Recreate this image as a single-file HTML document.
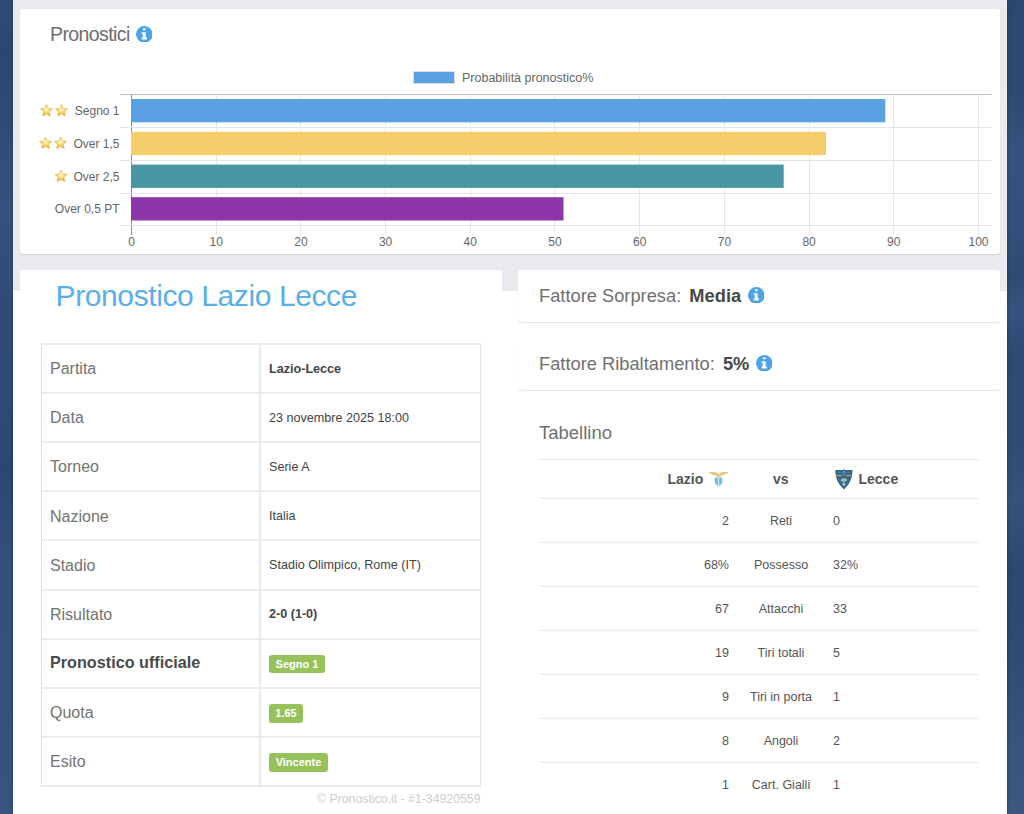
<!DOCTYPE html>
<html>
<head>
<meta charset="utf-8">
<style>
html,body{margin:0;padding:0;width:1024px;height:814px;overflow:hidden;}
body{position:relative;font-family:"Liberation Sans",sans-serif;color:#555;
  background:linear-gradient(165deg,#2b4771 0%,#33507b 22%,#2b4872 40%,#304d78 65%,#2b4872 100%);}
.abs{position:absolute;}
#gray{left:13px;top:0;width:994px;height:814px;background:linear-gradient(to bottom,#e9eaed 0,#e9eaed 291px,#fff 291px,#fff 100%);box-shadow:0 0 3px rgba(0,0,0,0.3);}
.card{position:absolute;background:#fff;border-radius:3px;box-shadow:0 1px 1px -0.5px rgba(0,0,0,0.10);}
.t{position:absolute;white-space:nowrap;line-height:1;}
.hl{position:absolute;height:2px;background:#eaecee;}
.vl{position:absolute;width:2px;background:#e8eaed;}
.lab{position:absolute;left:50px;font-size:16px;color:#737373;white-space:nowrap;line-height:1;}
.val{position:absolute;left:269px;font-size:12.6px;color:#444;white-space:nowrap;line-height:1;}
.badge{position:absolute;left:269px;height:18.6px;border-radius:3px;background:#97c25b;color:#fff;font-weight:bold;font-size:11px;line-height:18.6px;text-align:center;}
.sl{position:absolute;left:539px;width:440px;height:1px;background:#e8eaec;}
.sv{position:absolute;font-size:12.5px;color:#555;white-space:nowrap;line-height:1;}
</style>
</head>
<body>
<div class="abs" style="left:0;top:0;width:14px;height:814px;background:linear-gradient(to bottom,#2f4b76 0px,#2b4771 50px,#2f4d78 140px,#34527d 210px,#2f4c77 300px,#2e4b76 400px,#2b4771 470px,#32507b 560px,#34527d 700px,#36547f 814px);"></div>
<div class="abs" style="left:1006px;top:0;width:18px;height:814px;background:linear-gradient(to bottom,#2c4872 0px,#2d4973 90px,#35537e 150px,#32507b 230px,#2d4a74 275px,#36547f 310px,#2d4a75 350px,#2f4c77 450px,#35527d 500px,#2c4872 570px,#2e4b75 650px,#38557f 750px,#3a5782 814px);"></div>
<div id="gray" class="abs"></div>
<div class="card" style="left:20px;top:9px;width:980px;height:245px;"></div>

<svg class="abs" style="left:0;top:0" width="1024" height="260" viewBox="0 0 1024 260" font-family="Liberation Sans, sans-serif">
<defs><radialGradient id="sg" cx="0.5" cy="0.38" r="0.68"><stop offset="0" stop-color="#fff8d6"/><stop offset="0.35" stop-color="#fbe38a"/><stop offset="0.75" stop-color="#f1bb3a"/><stop offset="1" stop-color="#dc9318"/></radialGradient><symbol id="star" viewBox="0 0 24 24"><path d="M12 1.8l3.05 6.7 7.35.75-5.5 4.95 1.6 7.3L12 17.8l-6.5 3.7 1.6-7.3-5.5-4.95 7.35-.75z" fill="url(#sg)" stroke="#e0a93a" stroke-width="1" stroke-linejoin="round"/></symbol></defs>
<line x1="131.5" y1="94" x2="131.5" y2="235" stroke="#8f8f8f" stroke-width="1"/>
<line x1="216.5" y1="94" x2="216.5" y2="235" stroke="#e3e5e8" stroke-width="1"/>
<line x1="300.5" y1="94" x2="300.5" y2="235" stroke="#e3e5e8" stroke-width="1"/>
<line x1="385.5" y1="94" x2="385.5" y2="235" stroke="#e3e5e8" stroke-width="1"/>
<line x1="470.5" y1="94" x2="470.5" y2="235" stroke="#e3e5e8" stroke-width="1"/>
<line x1="554.5" y1="94" x2="554.5" y2="235" stroke="#e3e5e8" stroke-width="1"/>
<line x1="639.5" y1="94" x2="639.5" y2="235" stroke="#e3e5e8" stroke-width="1"/>
<line x1="724.5" y1="94" x2="724.5" y2="235" stroke="#e3e5e8" stroke-width="1"/>
<line x1="809.5" y1="94" x2="809.5" y2="235" stroke="#e3e5e8" stroke-width="1"/>
<line x1="893.5" y1="94" x2="893.5" y2="235" stroke="#e3e5e8" stroke-width="1"/>
<line x1="978.5" y1="94" x2="978.5" y2="235" stroke="#e3e5e8" stroke-width="1"/>
<line x1="120" y1="94.5" x2="991.5" y2="94.5" stroke="#bdbdbd" stroke-width="1"/>
<line x1="120" y1="127.5" x2="991.5" y2="127.5" stroke="#e3e5e8" stroke-width="1"/>
<line x1="120" y1="160.5" x2="991.5" y2="160.5" stroke="#e3e5e8" stroke-width="1"/>
<line x1="120" y1="193.5" x2="991.5" y2="193.5" stroke="#e3e5e8" stroke-width="1"/>
<line x1="120" y1="225.5" x2="991.5" y2="225.5" stroke="#e3e5e8" stroke-width="1"/>
<rect x="131" y="99.0" width="754.3" height="23.3" fill="#5aa1e3"/>
<rect x="131" y="131.8" width="695.0" height="23.3" fill="#f5cd6b"/>
<rect x="131" y="164.6" width="652.7" height="23.3" fill="#4a96a2"/>
<rect x="131" y="197.2" width="432.5" height="23.3" fill="#8c36a7"/>
<text x="119.5" y="115.0" text-anchor="end" font-size="12" fill="#666">Segno 1</text>
<text x="119.5" y="147.8" text-anchor="end" font-size="12" fill="#666">Over 1,5</text>
<text x="119.5" y="180.6" text-anchor="end" font-size="12" fill="#666">Over 2,5</text>
<text x="119.5" y="213.4" text-anchor="end" font-size="12" fill="#666">Over 0,5 PT</text>
<text x="131.5" y="245.5" text-anchor="middle" font-size="12" fill="#666">0</text>
<text x="216.2" y="245.5" text-anchor="middle" font-size="12" fill="#666">10</text>
<text x="300.9" y="245.5" text-anchor="middle" font-size="12" fill="#666">20</text>
<text x="385.6" y="245.5" text-anchor="middle" font-size="12" fill="#666">30</text>
<text x="470.3" y="245.5" text-anchor="middle" font-size="12" fill="#666">40</text>
<text x="555.0" y="245.5" text-anchor="middle" font-size="12" fill="#666">50</text>
<text x="639.7" y="245.5" text-anchor="middle" font-size="12" fill="#666">60</text>
<text x="724.4" y="245.5" text-anchor="middle" font-size="12" fill="#666">70</text>
<text x="809.1" y="245.5" text-anchor="middle" font-size="12" fill="#666">80</text>
<text x="893.8" y="245.5" text-anchor="middle" font-size="12" fill="#666">90</text>
<text x="978.5" y="245.5" text-anchor="middle" font-size="12" fill="#666">100</text>
<rect x="413.5" y="71.5" width="41" height="12" fill="#5aa1e3" stroke="#d8dde3" stroke-width="1"/>
<text x="462" y="82" font-size="12.5" fill="#666">Probabilità pronostico%</text>
<use href="#star" x="39.5" y="103.5" width="14" height="14"/>
<use href="#star" x="54.5" y="103.5" width="14" height="14"/>
<use href="#star" x="38.5" y="136" width="14" height="14"/>
<use href="#star" x="53.5" y="136" width="14" height="14"/>
<use href="#star" x="54" y="169" width="14" height="14"/>
</svg>
<div class="t" style="left:50px;top:24.5px;font-size:19.5px;letter-spacing:-0.6px;color:#6e6e6e;">Pronostici</div>
<svg class="abs" style="left:135.8px;top:25.5px" width="16.6" height="16.6" viewBox="0 0 20 20"><circle cx="10" cy="10" r="10" fill="#4ea3e7"/><rect x="8.4" y="2.7" width="3.3" height="2.4" rx="0.5" fill="#fff"/><path d="M6.8 7.5H11.7V13.9H13.2V16.3H6.8V13.9H8.1V9.4H6.8Z" fill="#fff"/></svg>
<div class="card" style="left:20px;top:270px;width:482px;height:540px;box-shadow:none;"></div>
<div class="t" style="left:55.6px;top:281px;font-size:30px;letter-spacing:-0.4px;color:#5aafea;">Pronostico Lazio Lecce</div>
<div class="hl" style="left:41px;top:343.0px;width:440px;"></div>
<div class="hl" style="left:41px;top:392.1px;width:440px;"></div>
<div class="hl" style="left:41px;top:441.2px;width:440px;"></div>
<div class="hl" style="left:41px;top:490.3px;width:440px;"></div>
<div class="hl" style="left:41px;top:539.4px;width:440px;"></div>
<div class="hl" style="left:41px;top:588.5px;width:440px;"></div>
<div class="hl" style="left:41px;top:637.6px;width:440px;"></div>
<div class="hl" style="left:41px;top:686.7px;width:440px;"></div>
<div class="hl" style="left:41px;top:735.8px;width:440px;"></div>
<div class="hl" style="left:41px;top:784.9px;width:440px;"></div>
<div class="vl" style="left:41px;width:1.4px;background:#e1e4e7;top:343.0px;height:443.9px;"></div>
<div class="vl" style="left:259px;top:343.0px;height:443.9px;"></div>
<div class="vl" style="left:479.6px;width:1.4px;background:#e1e4e7;top:343.0px;height:443.9px;"></div>
<div class="lab" style="top:361.2px;">Partita</div>
<div class="val" style="top:362.6px;"><b>Lazio-Lecce</b></div>
<div class="lab" style="top:410.4px;">Data</div>
<div class="val" style="top:411.7px;">23 novembre 2025 18:00</div>
<div class="lab" style="top:459.4px;">Torneo</div>
<div class="val" style="top:460.8px;">Serie A</div>
<div class="lab" style="top:508.6px;">Nazione</div>
<div class="val" style="top:509.9px;">Italia</div>
<div class="lab" style="top:557.6px;">Stadio</div>
<div class="val" style="top:558.9px;">Stadio Olimpico, Rome (IT)</div>
<div class="lab" style="top:606.8px;">Risultato</div>
<div class="val" style="top:608.0px;"><b>2-0 (1-0)</b></div>
<div class="lab" style="top:654.2px;font-size:16.2px;font-weight:bold;color:#4a4a4a;">Pronostico ufficiale</div>
<div class="badge" style="top:654.9px;width:56px;">Segno 1</div>
<div class="lab" style="top:705.0px;">Quota</div>
<div class="badge" style="top:704.0px;width:34px;">1.65</div>
<div class="lab" style="top:754.0px;">Esito</div>
<div class="badge" style="top:753.1px;width:59px;">Vincente</div>
<div class="t" style="left:317px;top:793px;font-size:12.3px;color:#cdcdcd;">© Pronostico.it - #1-34920559</div>
<div class="card" style="left:518px;top:270px;width:482px;height:52px;"></div>
<div class="t" style="left:539px;top:287px;font-size:18.3px;color:#707070;">Fattore Sorpresa: <b style="color:#484848;margin-left:3px">Media</b></div>
<svg class="abs" style="left:747.5px;top:286.7px" width="16.6" height="16.6" viewBox="0 0 20 20"><circle cx="10" cy="10" r="10" fill="#4ea3e7"/><rect x="8.4" y="2.7" width="3.3" height="2.4" rx="0.5" fill="#fff"/><path d="M6.8 7.5H11.7V13.9H13.2V16.3H6.8V13.9H8.1V9.4H6.8Z" fill="#fff"/></svg>
<div class="card" style="left:518px;top:338px;width:482px;height:52px;"></div>
<div class="t" style="left:539px;top:355px;font-size:18.3px;color:#707070;">Fattore Ribaltamento: <b style="color:#484848;margin-left:3px">5%</b></div>
<svg class="abs" style="left:755.5px;top:354.7px" width="16.6" height="16.6" viewBox="0 0 20 20"><circle cx="10" cy="10" r="10" fill="#4ea3e7"/><rect x="8.4" y="2.7" width="3.3" height="2.4" rx="0.5" fill="#fff"/><path d="M6.8 7.5H11.7V13.9H13.2V16.3H6.8V13.9H8.1V9.4H6.8Z" fill="#fff"/></svg>
<div class="t" style="left:539px;top:424px;font-size:18.5px;color:#707070;">Tabellino</div>
<div class="sl" style="top:458.6px;"></div>
<div class="t" style="left:667.5px;top:472px;font-size:14px;font-weight:bold;color:#555;">Lazio</div>
<div class="t" style="left:773px;top:472px;font-size:14px;font-weight:bold;color:#555;">vs</div>
<div class="t" style="left:858.5px;top:472px;font-size:14px;font-weight:bold;color:#555;">Lecce</div>
<svg class="abs" style="left:707px;top:471px" width="23" height="17" viewBox="0 0 23 17"><path d="M1.2 1.3 Q6 0.3 9.5 1.6 L11.5 2.9 L13.5 1.6 Q17 0.3 21.9 1.3 Q19.2 3.9 14.6 4.7 L11.5 6.5 L8.4 4.7 Q3.8 3.9 1.2 1.3 Z" fill="#e5c888"/><path d="M7 5.9 H16 V10.4 Q16 14 11.5 15.8 Q7 14 7 10.4 Z" fill="#d6ebfa"/><path d="M8 6.7 H15 V10.4 Q15 13.3 11.5 14.9 Q8 13.3 8 10.4 Z" fill="#74bbee"/><rect x="11" y="6.7" width="1" height="8" fill="#e3f1fc"/></svg>
<svg class="abs" style="left:835px;top:469px" width="18" height="21" viewBox="0 0 18 21"><path d="M0.2 0.9 H17.5 L16.9 7.5 Q15.3 14.5 8.9 20.6 Q2.5 14.5 0.9 7.5 Z" fill="#2d6b94"/><rect x="7.9" y="0.3" width="2" height="6.5" fill="#5b88a6"/><rect x="3" y="3.2" width="12" height="1" fill="#4f7f9f"/><rect x="1.2" y="6.2" width="5.6" height="0.9" fill="#d1b24c"/><rect x="1.2" y="7.1" width="5.6" height="0.7" fill="#9a5c3c"/><rect x="11.1" y="6.2" width="5.6" height="0.9" fill="#d1b24c"/><rect x="11.1" y="7.1" width="5.6" height="0.7" fill="#9a5c3c"/><ellipse cx="8.9" cy="10.9" rx="3.1" ry="1.7" fill="#b6bda9"/><rect x="8.4" y="11" width="1" height="4" fill="#a9b4a6"/><circle cx="8.9" cy="15.2" r="1.5" fill="#b6bda9"/></svg>
<div class="sl" style="top:498.3px;"></div>
<div class="sv" style="left:600px;width:129px;text-align:right;top:515.1px;">2</div>
<div class="sv" style="left:731px;width:100px;text-align:center;top:515.1px;">Reti</div>
<div class="sv" style="left:833px;top:515.1px;">0</div>
<div class="sl" style="top:542.2px;"></div>
<div class="sv" style="left:600px;width:129px;text-align:right;top:559.0px;">68%</div>
<div class="sv" style="left:731px;width:100px;text-align:center;top:559.0px;">Possesso</div>
<div class="sv" style="left:833px;top:559.0px;">32%</div>
<div class="sl" style="top:586.2px;"></div>
<div class="sv" style="left:600px;width:129px;text-align:right;top:603.0px;">67</div>
<div class="sv" style="left:731px;width:100px;text-align:center;top:603.0px;">Attacchi</div>
<div class="sv" style="left:833px;top:603.0px;">33</div>
<div class="sl" style="top:630.2px;"></div>
<div class="sv" style="left:600px;width:129px;text-align:right;top:646.9px;">19</div>
<div class="sv" style="left:731px;width:100px;text-align:center;top:646.9px;">Tiri totali</div>
<div class="sv" style="left:833px;top:646.9px;">5</div>
<div class="sl" style="top:674.1px;"></div>
<div class="sv" style="left:600px;width:129px;text-align:right;top:690.9px;">9</div>
<div class="sv" style="left:731px;width:100px;text-align:center;top:690.9px;">Tiri in porta</div>
<div class="sv" style="left:833px;top:690.9px;">1</div>
<div class="sl" style="top:718.0px;"></div>
<div class="sv" style="left:600px;width:129px;text-align:right;top:734.8px;">8</div>
<div class="sv" style="left:731px;width:100px;text-align:center;top:734.8px;">Angoli</div>
<div class="sv" style="left:833px;top:734.8px;">2</div>
<div class="sl" style="top:762.0px;"></div>
<div class="sv" style="left:600px;width:129px;text-align:right;top:778.8px;">1</div>
<div class="sv" style="left:731px;width:100px;text-align:center;top:778.8px;">Cart. Gialli</div>
<div class="sv" style="left:833px;top:778.8px;">1</div>
</body>
</html>
